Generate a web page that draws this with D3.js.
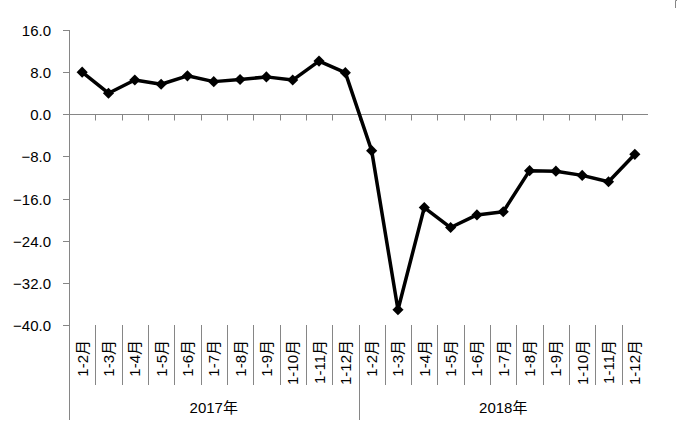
<!DOCTYPE html>
<html><head><meta charset="utf-8">
<script src="https://cdn.jsdelivr.net/npm/d3@7"></script>
<style>
body{margin:0;background:#fff;}
text{font-family:"Liberation Sans","DejaVu Sans","Noto Sans CJK SC",sans-serif;fill:#000;}
</style></head>
<body><svg id="c" width="677" height="427"></svg>
<script>
const years = ["2017年","2018年"];
const months = ["1-2月","1-3月","1-4月","1-5月","1-6月","1-7月","1-8月","1-9月","1-10月","1-11月","1-12月"];
const values2017 = [8.0,4.0,6.5,5.7,7.3,6.2,6.6,7.1,6.5,10.1,7.9];
const values2018 = [-6.9,-37.1,-17.7,-21.5,-19.1,-18.5,-10.7,-10.8,-11.6,-12.8,-7.6];
const yTicks = [16,8,0,-8,-16,-24,-32,-40];

(function(){
const data = [];
[values2017, values2018].forEach((vals, gi) => vals.forEach((v, i) => data.push({year: years[gi], month: months[i], value: v})));

const svg = d3.select("#c");
const axisColor = "#868686";
const pL = 69, pR = 648, pT = 30, pB = 325;

const x = d3.scaleBand().domain(d3.range(data.length)).range([pL, pR]).padding(0);
const y = d3.scaleLinear().domain([-40, 16]).range([pB, pT]);

// Y axis
svg.append("line").attr("x1", pL + 0.5).attr("x2", pL + 0.5).attr("y1", y(16)).attr("y2", y(-40))
  .attr("stroke", axisColor).attr("stroke-width", 1);
yTicks.forEach(t => {
  const yy = Math.round(y(t)) + 0.5;
  svg.append("line").attr("x1", pL - 6).attr("x2", pL).attr("y1", yy).attr("y2", yy).attr("stroke", axisColor);
  svg.append("text").attr("x", 51).attr("y", yy + 5).attr("text-anchor", "end")
    .style("font-size", "15px").text(d3.format(".1f")(t));
});

// Category axis line at 0
const y0 = Math.round(y(0)) + 0.5;
svg.append("line").attr("x1", pL).attr("x2", pR).attr("y1", y0).attr("y2", y0).attr("stroke", axisColor);
for (let i = 1; i < data.length; i++) {
  const xx = Math.round(x(i)) + 0.5;
  svg.append("line").attr("x1", xx).attr("x2", xx).attr("y1", y0).attr("y2", y0 + 6).attr("stroke", axisColor);
}

// Bottom category dividers
for (let i = 0; i < data.length; i++) {
  const xx = Math.round(x(i)) + 0.5;
  const isGroup = i % months.length === 0;
  svg.append("line").attr("x1", xx).attr("x2", xx).attr("y1", pB).attr("y2", isGroup ? 420 : 385)
    .attr("stroke", axisColor);
}

// Rotated month labels
data.forEach((d, i) => {
  const cx = x(i) + x.bandwidth() / 2 + 5.5;
  svg.append("text").attr("transform", `translate(${cx},340) rotate(-90)`)
    .attr("text-anchor", "end").style("font-size", "15px").text(d.month);
});

// Year labels
years.forEach((yr, gi) => {
  const s = gi * months.length, e = s + months.length;
  const x1 = x(s), x2 = e < data.length ? x(e) : pR;
  svg.append("text").attr("x", (x1 + x2) / 2).attr("y", 413).attr("text-anchor", "middle")
    .style("font-size", "15px").text(yr);
});

// Line
const line = d3.line().x((d, i) => x(i) + x.bandwidth() / 2).y(d => y(d.value));
svg.append("path").datum(data).attr("d", line).attr("fill", "none").attr("stroke", "#000")
  .attr("stroke-width", 3.5).attr("stroke-linejoin", "round");

// Markers
const sym = d3.symbol().type(d3.symbolSquare).size(62);
svg.selectAll(".m").data(data).join("path").attr("class", "m")
  .attr("d", sym)
  .attr("transform", (d, i) => `translate(${x(i) + x.bandwidth() / 2},${y(d.value)}) rotate(45)`)
  .attr("fill", "#000");

// small corner mark top-right
svg.append("path").attr("d", "M677,0.5 H675.5 V8").attr("fill", "none").attr("stroke", axisColor);
})();
</script></body></html>
